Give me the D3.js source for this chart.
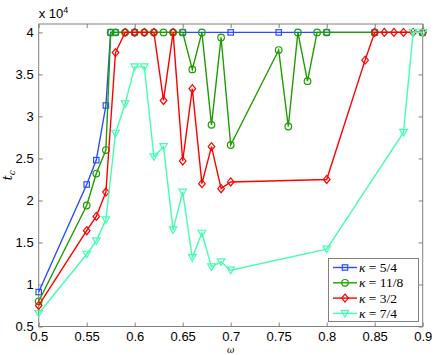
<!DOCTYPE html>
<html><head><meta charset="utf-8">
<script src="https://cdn.jsdelivr.net/npm/d3@7"></script>
<style>body{margin:0;background:#fff}svg{display:block}</style>
</head><body>
<script>
const xTicks = [0.5,0.55,0.6,0.65,0.7,0.75,0.8,0.85,0.9];
const yTicks = [0.5,1,1.5,2,2.5,3,3.5,4];
const xTickLabels = ["0.5","0.55","0.6","0.65","0.7","0.75","0.8","0.85","0.9"];
const yTickLabels = ["0.5","1","1.5","2","2.5","3","3.5","4"];

const blueX = [0.5,0.55,0.56,0.57,0.575,0.58,0.6,0.65,0.7,0.75,0.8,0.85,0.9];
const blueY = [0.91,2.19,2.48,3.13,4,4,4,4,4,4,4,4,4];

const greenX = [0.5,0.55,0.56,0.57,0.575,0.58,0.59,0.6,0.61,0.62,0.63,0.64,0.65,0.66,0.67,0.68,0.69,0.7,0.75,0.76,0.77,0.78,0.79,0.8,0.85,0.9];
const greenY = [0.80,1.94,2.32,2.60,4,4,4,4,4,4,4,4,4,3.56,4,2.90,3.94,2.66,3.79,2.88,4,3.42,4,4,4,4];

const redX = [0.5,0.55,0.56,0.57,0.58,0.59,0.6,0.61,0.62,0.63,0.64,0.65,0.66,0.67,0.68,0.69,0.7,0.8,0.84,0.85,0.86,0.87,0.88,0.89,0.9];
const redY = [0.75,1.64,1.81,2.10,3.76,4,4,4,4,3.19,4,2.47,3.33,2.20,2.64,2.14,2.22,2.25,3.67,4,4,4,4,4,4];

const cyanX = [0.5,0.55,0.56,0.57,0.58,0.59,0.6,0.61,0.62,0.63,0.64,0.65,0.66,0.67,0.68,0.69,0.7,0.8,0.88,0.89,0.9];
const cyanY = [0.655,1.36,1.52,1.77,2.80,3.15,3.59,3.59,2.52,2.64,1.65,2.10,1.32,1.61,1.21,1.27,1.17,1.42,2.81,4,4];

const seriesNames = ["5/4","11/8","3/2","7/4"];
const seriesColors = ["#2a4dff","#1f9e00","#ff0000","#45ffb0"];
const seriesMarkers = ["square","circle","diamond","triangle"];

const W=436,H=355;
const L=38.7,R=422.7,T=24,B=326.5;
const svg=d3.select("body").append("svg").attr("width",W).attr("height",H);
const x=d3.scaleLinear().domain([0.5,0.9]).range([L,R]);
const y=d3.scaleLinear().domain([0.5,4.1]).range([B,T]);

const frame="#808080";
const font="'Liberation Sans', Arial, Helvetica, sans-serif";

const gx=svg.append("g").attr("transform",`translate(0,${B})`)
  .call(d3.axisBottom(x).tickValues(xTicks).tickFormat((d,i)=>xTickLabels[i]).tickSize(-4).tickPadding(5));
const gxt=svg.append("g").attr("transform",`translate(0,${T})`)
  .call(d3.axisTop(x).tickValues(xTicks).tickFormat("").tickSize(-4));
const gy=svg.append("g").attr("transform",`translate(${L},0)`)
  .call(d3.axisLeft(y).tickValues(yTicks).tickFormat((d,i)=>yTickLabels[i]).tickSize(-4).tickPadding(5));
const gyr=svg.append("g").attr("transform",`translate(${R},0)`)
  .call(d3.axisRight(y).tickValues(yTicks).tickFormat("").tickSize(-4));
[gx,gxt,gy,gyr].forEach(g=>{
  g.select(".domain").remove();
  g.selectAll(".tick line").attr("stroke",frame);
  g.selectAll(".tick text").attr("fill","#000").style("font-family",font).style("font-size","13px");
});
gx.selectAll(".tick text").attr("dy","0.7em");
svg.append("rect").attr("x",L).attr("y",T).attr("width",R-L).attr("height",B-T)
  .attr("fill","none").attr("stroke",frame).attr("stroke-width",1);

const ex=svg.append("text").attr("x",L).attr("y",18).style("font-family",font).style("font-size","13px").attr("fill","#000");
ex.append("tspan").text("x 10");
ex.append("tspan").attr("dy",-5).style("font-size","9px").text("4");

svg.append("text").attr("transform",`translate(12,${(T+B)/2}) rotate(-90)`).attr("text-anchor","middle")
  .style("font-family","'DejaVu Serif','Liberation Serif',serif").style("font-style","italic").style("font-size","12px")
  .html('t<tspan dy="3" style="font-size:9px">c</tspan>');
svg.append("text").attr("x",x(0.7)).attr("y",352.5).attr("text-anchor","middle")
  .style("font-family","'DejaVu Serif','Liberation Serif',serif").style("font-style","italic").style("font-size","9px").text("ω");

function marker(g,type,cx,cy){
  if(type==="square") g.append("rect").attr("x",cx-2.7).attr("y",cy-2.7).attr("width",5.4).attr("height",5.4);
  else if(type==="circle") g.append("circle").attr("cx",cx).attr("cy",cy).attr("r",3.3);
  else if(type==="diamond") g.append("path").attr("d",`M${cx},${cy-4}L${cx+3.3},${cy}L${cx},${cy+4}L${cx-3.3},${cy}Z`);
  else g.append("path").attr("d",`M${cx-3.8},${cy-3}L${cx+3.8},${cy-3}L${cx},${cy+3.6}Z`);
}

const data=[[blueX,blueY],[greenX,greenY],[redX,redY],[cyanX,cyanY]];
const line=d3.line().x(d=>x(d[0])).y(d=>y(d[1]));
data.forEach(([xs,ys],i)=>{
  const pts=xs.map((v,j)=>[v,ys[j]]);
  const g=svg.append("g");
  g.append("path").attr("d",line(pts)).attr("fill","none").attr("stroke",seriesColors[i]).attr("stroke-width",1.4);
  const mg=g.append("g").attr("fill","none").attr("stroke",seriesColors[i]).attr("stroke-width",1.2);
  pts.forEach(p=>marker(mg,seriesMarkers[i],x(p[0]),y(p[1])));
});

const lg=svg.append("g");
lg.append("rect").attr("x",328.5).attr("y",258.5).attr("width",90).attr("height",63).attr("fill","#fff").attr("stroke",frame);
seriesNames.forEach((n,i)=>{
  const yy=267.5+i*15.3;
  lg.append("line").attr("x1",333).attr("x2",357).attr("y1",yy).attr("y2",yy).attr("stroke",seriesColors[i]).attr("stroke-width",1.4);
  const mg=lg.append("g").attr("fill","none").attr("stroke",seriesColors[i]).attr("stroke-width",1.2);
  marker(mg,seriesMarkers[i],345,yy);
  const t=lg.append("text").attr("x",359).attr("y",yy+4.5).style("font-family","'Liberation Serif','DejaVu Serif',serif").style("font-size","13.5px").attr("fill","#000");
  t.append("tspan").style("font-style","italic").text("κ");
  t.append("tspan").text(" = "+n);
});
</script>
</body></html>
